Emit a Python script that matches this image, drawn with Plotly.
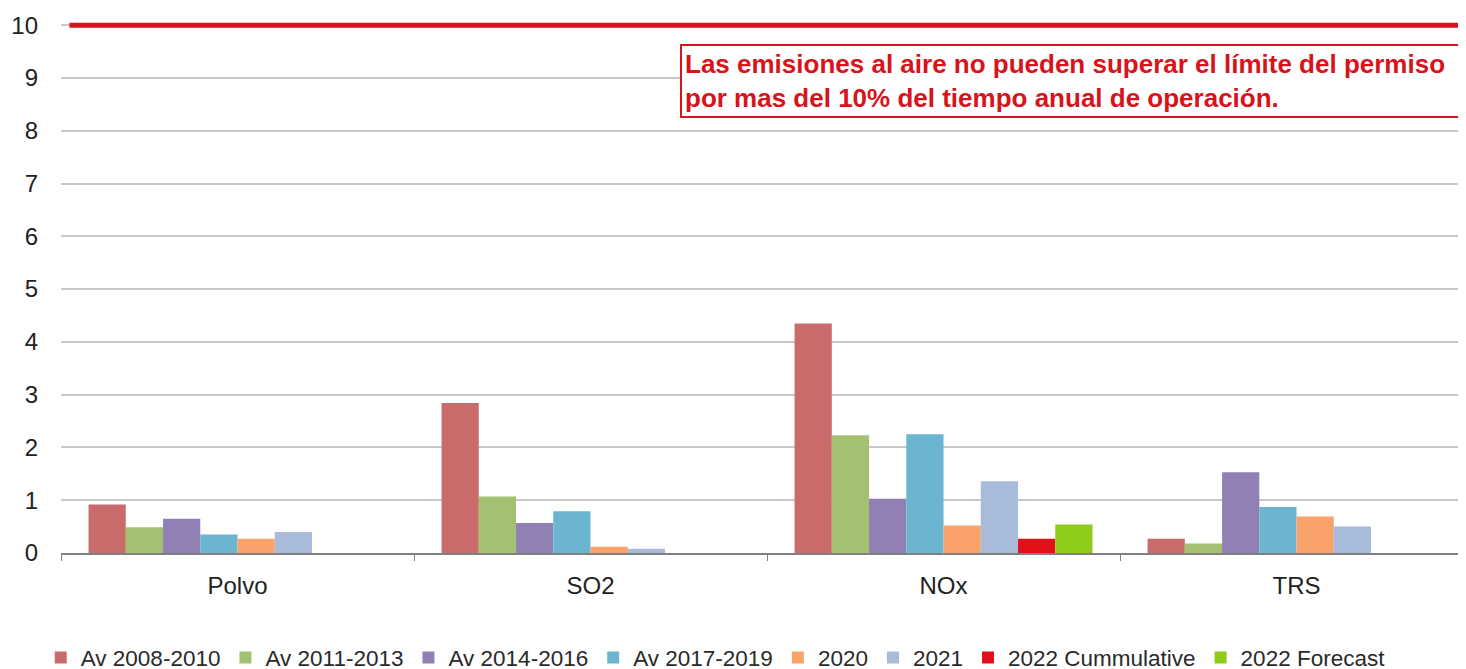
import plotly.graph_objects as go

categories = ["Polvo", "SO2", "NOx", "TRS"]
series_names = ["Av 2008-2010", "Av 2011-2013", "Av 2014-2016", "Av 2017-2019",
                "2020", "2021", "2022 Cummulative", "2022 Forecast"]
av_2008_2010 = [0.92, 2.84, 4.35, 0.27]
av_2011_2013 = [0.49, 1.07, 2.23, 0.18]
av_2014_2016 = [0.65, 0.57, 1.03, 1.53]
av_2017_2019 = [0.35, 0.79, 2.25, 0.87]
y2020 = [0.27, 0.12, 0.52, 0.69]
y2021 = [0.40, 0.08, 1.36, 0.50]
y2022_cum = [0, 0, 0.27, 0]
y2022_fc = [0, 0, 0.54, 0]
limit = 10
yticks = [0, 1, 2, 3, 4, 5, 6, 7, 8, 9, 10]
note = ("Las emisiones al aire no pueden superar el límite del permiso<br>"
        "por mas del 10% del tiempo anual de operación.")

values = [av_2008_2010, av_2011_2013, av_2014_2016, av_2017_2019,
          y2020, y2021, y2022_cum, y2022_fc]
colors = ["#C96B6B", "#A3C170", "#9180B4", "#6BB5D1",
          "#F9A36A", "#A8BBDB", "#E3101A", "#8FCB1A"]

FONT = "Liberation Sans, Arial, sans-serif"

fig = go.Figure()
for name, vals, col in zip(series_names, values, colors):
    fig.add_trace(go.Bar(name=name, x=categories, y=vals,
                         marker=dict(color=col, line=dict(width=0))))

fig.add_hline(y=limit, x0=0.006, x1=1, line=dict(color="#D9131B", width=5), layer="above")

fig.add_annotation(text=note, xref="paper", yref="y", x=0.4406, y=9.65,
                   xanchor="left", yanchor="top", showarrow=False, align="left",
                   font=dict(family=FONT, size=26, color="#D9131B", weight="bold"),
                   bordercolor="#D9131B", borderwidth=2, borderpad=3,
                   bgcolor="white", width=772)

fig.update_layout(
    width=1458, height=690,
    margin=dict(l=53, r=0, t=14, b=145),
    paper_bgcolor="white", plot_bgcolor="white",
    barmode="group", bargap=0.156, bargroupgap=0,
    font=dict(family=FONT, size=24, color="#222222"),
    showlegend=True,
    legend=dict(orientation="h", x=0.466, xanchor="center", y=-0.1977, yanchor="middle",
                font=dict(family=FONT, size=22.5, color="#2a2a2a"), tracegroupgap=0),
    xaxis=dict(type="category", range=[-0.5, 3.48], showgrid=False, automargin=False,
               showline=True, linecolor="#808080", linewidth=1.5,
               ticks="outside", tickson="boundaries", ticklen=6, tickcolor="#808080",
               tickfont=dict(family=FONT, size=24, color="#222222"), ticklabelstandoff=10),
    yaxis=dict(range=[0, 10.06], tickvals=yticks, showgrid=True, gridcolor="#C8C8C8",
               gridwidth=1.5, zeroline=False, showline=False, ticks="", automargin=False,
               tickfont=dict(family=FONT, size=24, color="#222222"), ticklabelstandoff=22),
)

fig.write_html("out.html")
